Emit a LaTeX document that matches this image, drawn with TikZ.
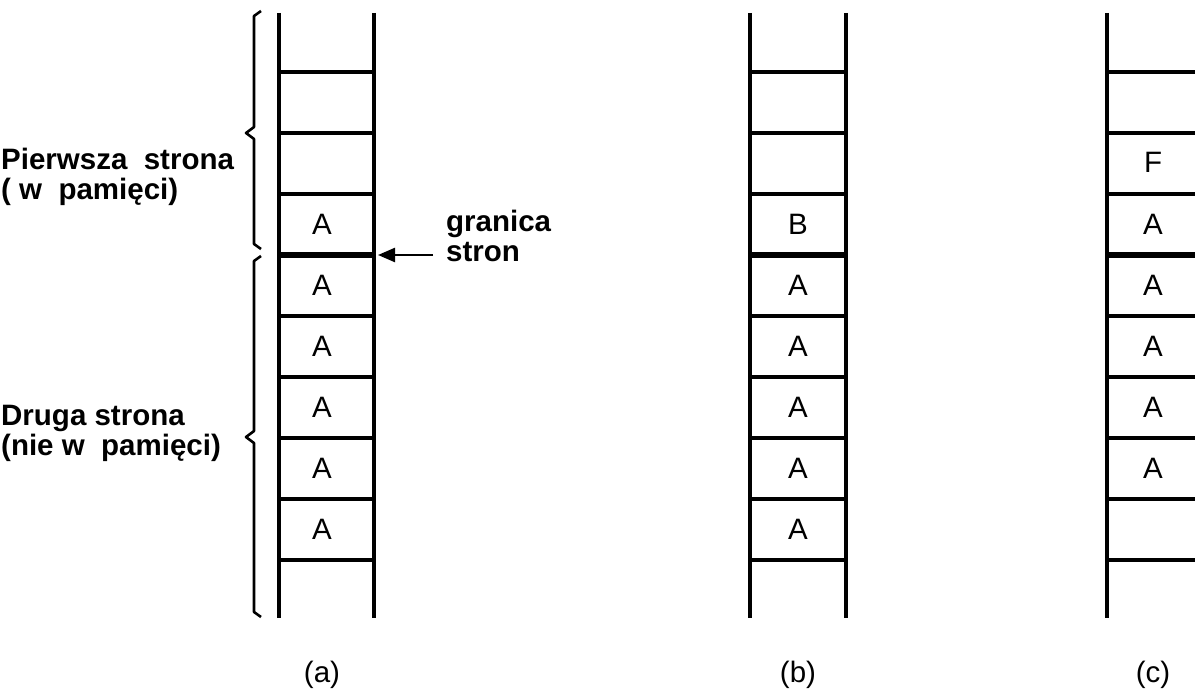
\documentclass[tikz,border=0pt]{standalone}
\usepackage{fontspec}
\setmainfont{Liberation Sans}
\usetikzlibrary{arrows.meta}
\begin{document}
\begin{tikzpicture}[x=1pt,y=-1pt,
  rail/.style={line width=3.3pt},
  rung/.style={line width=3.3pt},
  border/.style={line width=5.5pt},
  brace/.style={line width=2.6pt,line join=round},
  cell/.style={font=\fontsize{29.5}{30}\selectfont,inner sep=0pt,anchor=base},
  lbl/.style={font=\fontsize{29.5}{30}\selectfont\bfseries,inner sep=0pt,align=left,anchor=base west},
  captext/.style={font=\fontsize{29.5}{30}\selectfont,inner sep=0pt,anchor=base}]
\useasboundingbox (0,0) rectangle (1195,690);
% column (a)
\draw[rail] (279,13) -- (279,618) (374,13) -- (374,618);
\foreach \y in {72,133,194,316,377,438,499,560} \draw[rung] (279,\y) -- (374,\y);
\draw[border] (279,255) -- (374,255);
% column (b)
\draw[rail] (750,13) -- (750,618) (846,13) -- (846,618);
\foreach \y in {72,133,194,316,377,438,499,560} \draw[rung] (750,\y) -- (846,\y);
\draw[border] (750,255) -- (846,255);
% column (c)
\draw[rail] (1107,13) -- (1107,618);
\foreach \y in {72,133,194,316,377,438,499,560} \draw[rung] (1107,\y) -- (1195,\y);
\draw[border] (1107,255) -- (1195,255);
% cell texts (a)
\node[cell] (a1) at (322,234) {A};
\foreach \i/\y in {2/295,3/356,4/417,5/478,6/539} \node[cell] (a\i) at (322,\y) {A};
% (b)
\node[cell] (b1) at (798,234) {B};
\foreach \i/\y in {2/295,3/356,4/417,5/478,6/539} \node[cell] (b\i) at (798,\y) {A};
% (c)
\node[cell] (c0) at (1153,173) {F};
\foreach \i/\y in {1/234,2/295,3/356,4/417,5/478} \node[cell] (c\i) at (1153,\y) {A};
% captions
\node[captext] (capa) at (322,682) {(a)};
\node[captext] (capb) at (798,682) {(b)};
\node[captext] (capc) at (1153,682) {(c)};
% braces
\draw[brace] (261,11) -- (254,16) -- (254,127) -- (246,133) -- (254,139) -- (254,244) -- (261,249);
\draw[brace] (261,256) -- (254,261) -- (254,431) -- (246,437) -- (254,443) -- (254,612) -- (261,617);
% labels
\node[lbl] (first) at (1,200) {Pierwsza\ \ strona\\( w\ \ pamięci)};
\node[lbl] (second) at (1,455) {Druga strona\\(nie w\ \ pamięci)};
\node[lbl,font=\fontsize{29.5}{29}\selectfont\bfseries] (gran) at (446,261) {granica\\stron};
% arrow
\coordinate (astart) at (433,255);
\coordinate (aend) at (378,255);
\draw[line width=2.4pt,-{Triangle[length=17pt,width=14pt]}] (astart) -- (aend);
\end{tikzpicture}
\end{document}
